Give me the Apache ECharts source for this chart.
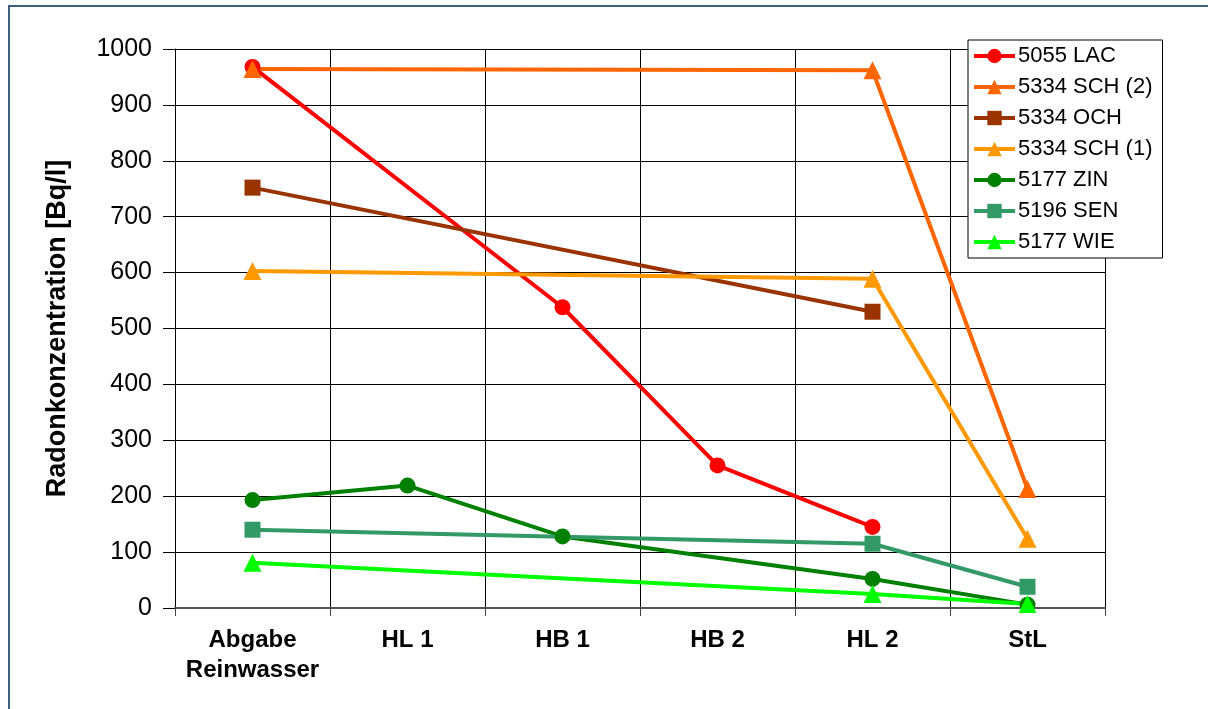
<!DOCTYPE html>
<html>
<head>
<meta charset="utf-8">
<script src="https://cdn.jsdelivr.net/npm/echarts@6/dist/echarts.min.js"></script>
<style>
  html, body { margin: 0; padding: 0; background: #fff; }
  #chart { width: 1208px; height: 709px; }
</style>
</head>
<body>
<div id="chart"></div>
<script>
// Measuring points along the treatment chain
const categories = ['Abgabe\nReinwasser', 'HL 1', 'HB 1', 'HB 2', 'HL 2', 'StL'];

// Radon concentration in Bq/l per sampling site (null = not measured)
const lac5055  = [968, null, 538, 255, 145, null];
const sch5334b = [964, null, null, null, 962, 213];
const och5334  = [752, null, null, null, 530, null];
const sch5334a = [603, null, null, null, 589, 124];
const zin5177  = [193, 219, 128, null, 52, 6];
const sen5196  = [140, null, null, null, 115, 38];
const wie5177  = [81, null, null, null, 25, 7];

const yTicks = { min: 0, max: 1000, step: 100 };

const seriesDefs = [
  { name: '5055 LAC',     data: lac5055,  color: '#FF0000', symbol: 'circle' },
  { name: '5334 SCH (2)', data: sch5334b, color: '#FF6600', symbol: 'triangle' },
  { name: '5334 OCH',     data: och5334,  color: '#993300', symbol: 'rect' },
  { name: '5334 SCH (1)', data: sch5334a, color: '#FF9900', symbol: 'triangle' },
  { name: '5177 ZIN',     data: zin5177,  color: '#008000', symbol: 'circle' },
  { name: '5196 SEN',     data: sen5196,  color: '#339966', symbol: 'rect' },
  { name: '5177 WIE',     data: wie5177,  color: '#00FF00', symbol: 'triangle' }
];

const font = '"Liberation Sans", Arial, sans-serif';

const chart = echarts.init(document.getElementById('chart'), null, { renderer: 'canvas' });

chart.setOption({
  backgroundColor: '#ffffff',
  animation: false,
  graphic: [{
    type: 'rect',
    shape: { x: 9, y: 6, width: 1400, height: 900 },
    style: { fill: 'none', stroke: '#41607E', lineWidth: 2 },
    silent: true,
    z: -1
  }],
  grid: { left: 175, top: 49, right: 103, bottom: 101, containLabel: false },
  legend: {
    orient: 'vertical',
    left: 968,
    top: 40,
    padding: [5, 10, 5, 4],
    itemWidth: 41,
    itemHeight: 18,
    itemGap: 9,
    backgroundColor: '#ffffff',
    borderColor: '#000000',
    borderWidth: 1,
    lineStyle: { width: 4 },
    textStyle: { fontFamily: font, fontSize: 22, color: '#000', lineHeight: 22, padding: [0, 0, 0, -2] },
    data: seriesDefs.map(s => s.name)
  },
  xAxis: {
    type: 'category',
    data: categories,
    boundaryGap: true,
    axisLine: { lineStyle: { color: '#555555', width: 2 } },
    axisTick: { show: true, interval: 0, length: 8, lineStyle: { color: '#444444', width: 1 } },
    splitLine: { show: true, interval: 0, lineStyle: { color: '#000000', width: 1 } },
    axisLabel: {
      interval: 0,
      margin: 17,
      fontFamily: font,
      fontSize: 24,
      fontWeight: 'bold',
      color: '#000',
      lineHeight: 30
    }
  },
  yAxis: {
    type: 'value',
    min: yTicks.min,
    max: yTicks.max,
    interval: yTicks.step,
    name: 'Radonkonzentration [Bq/l]',
    nameLocation: 'middle',
    nameRotate: 90,
    nameGap: 104,
    nameTextStyle: { fontFamily: font, fontSize: 27, fontWeight: 'bold', color: '#000' },
    axisLine: { show: true, lineStyle: { color: '#000000', width: 1 } },
    axisTick: { show: true, length: 12, lineStyle: { color: '#000000', width: 1 } },
    splitLine: { show: true, lineStyle: { color: '#000000', width: 1 } },
    axisLabel: {
      margin: 23, fontFamily: font, fontSize: 25, color: '#000',
      formatter: v => String(v)
    }
  },
  series: seriesDefs.map(s => ({
    name: s.name,
    type: 'line',
    data: s.data,
    connectNulls: true,
    symbol: s.symbol,
    symbolSize: s.symbol === 'triangle' ? 18 : 16,
    showAllSymbol: true,
    lineStyle: { color: s.color, width: 4 },
    itemStyle: { color: s.color, borderWidth: 0 },
    emphasis: { disabled: true }
  }))
});
</script>
</body>
</html>
